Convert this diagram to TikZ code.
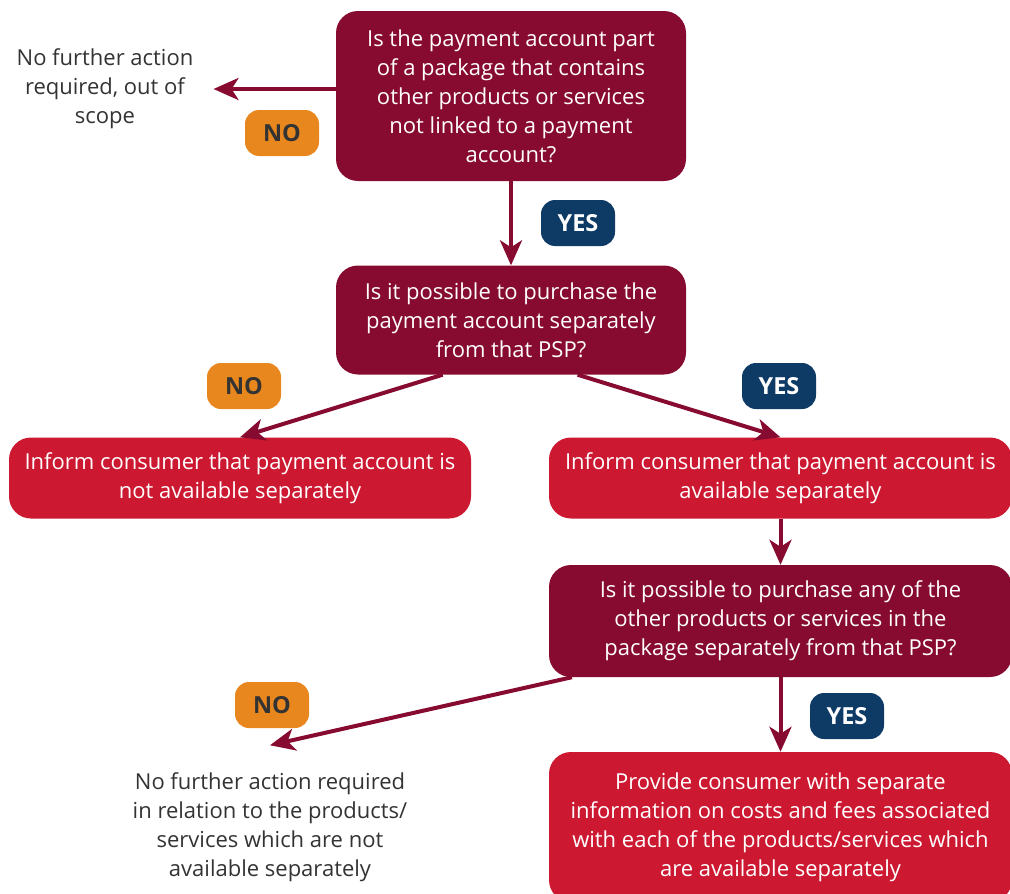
\documentclass[tikz,border=0pt]{standalone}
\usepackage{fontspec}
\setmainfont{Open Sans}
\usepackage{tikz}
\usetikzlibrary{arrows.meta,calc}
\definecolor{Wine}{HTML}{870B30}
\definecolor{Crimson}{HTML}{CC1830}
\definecolor{Amber}{HTML}{E8871E}
\definecolor{Navy}{HTML}{0E3A66}
\definecolor{Ink}{HTML}{333333}
\tikzset{
  body/.style={font=\fontsize{22}{29}\selectfont,align=center,inner sep=0pt},
  question/.style={body,fill=Wine,text=white,rounded corners=22},
  inform/.style={body,fill=Crimson,text=white,rounded corners=22},
  note/.style={body,text=Ink},
  tag/.style={minimum width=74,minimum height=46,rounded corners=14,inner sep=0pt,
    font=\fontsize{23.5}{26}\selectfont\bfseries},
  yestag/.style={tag,fill=Navy,text=white},
  notag/.style={tag,fill=Amber,text=Ink},
  flow/.style={Wine,line width=4pt,-{Stealth[length=25pt,width=22pt,inset=7pt]}}
}

\begin{document}
\begin{tikzpicture}[x=1pt,y=-1pt]
\useasboundingbox (0,0) rectangle (1010,894);
% questions and outcomes
\node[question,minimum width=350,minimum height=170] (q1) at (511,96)
  {Is the payment account part\\of a package that contains\\other products or services\\not linked to a payment\\account?};
\node[note] (out1) at (105,89) {No further action\\required, out of\\scope};
\node[question,minimum width=350,minimum height=109] (q2) at (511,320)
  {Is it possible to purchase the\\payment account separately\\from that PSP?};
\node[inform,minimum width=462,minimum height=81] (r1) at (240,478)
  {Inform consumer that payment account is\\not available separately};
\node[inform,minimum width=463,minimum height=81] (r2) at (780.5,478)
  {Inform consumer that payment account is\\available separately};
\node[question,minimum width=463,minimum height=112] (q3) at (780.5,621)
  {Is it possible to purchase any of the\\other products or services in the\\package separately from that PSP?};
\node[note] (out2) at (270,827)
  {No further action required\\in relation to the products/\\services which are not\\available separately};
\node[inform,minimum width=463,minimum height=150] (r3) at (780.5,827)
  {Provide consumer with separate\\information on costs and fees associated\\with each of the products/services which\\are available separately};
% yes / no tags
\foreach \n/\s/\x/\y/\t in {n1/notag/282/133/NO,y1/yestag/578/223/YES,
  n2/notag/244/386/NO,y2/yestag/779/386/YES,n3/notag/272/705/NO,y3/yestag/847/716/YES}{
  \node[\s] (\n) at (\x,\y) {\t};
}
% arrows
\draw[flow] (q1.west |- out1) -- ([xshift=20]out1.east);
\draw[flow] (q1) -- (q2);
\draw[flow] ($(q2.south west)!0.305!(q2.south east)$) -- (r1.north);
\draw[flow] ($(q2.south west)!0.69!(q2.south east)$) -- (r2.north);
\draw[flow] (r2) -- (q3);
\draw[flow] ($(q3.south west)!0.05!(q3.south east)$) -- ([yshift=27]out2.north);
\draw[flow] (q3) -- (r3);
\end{tikzpicture}
\end{document}
